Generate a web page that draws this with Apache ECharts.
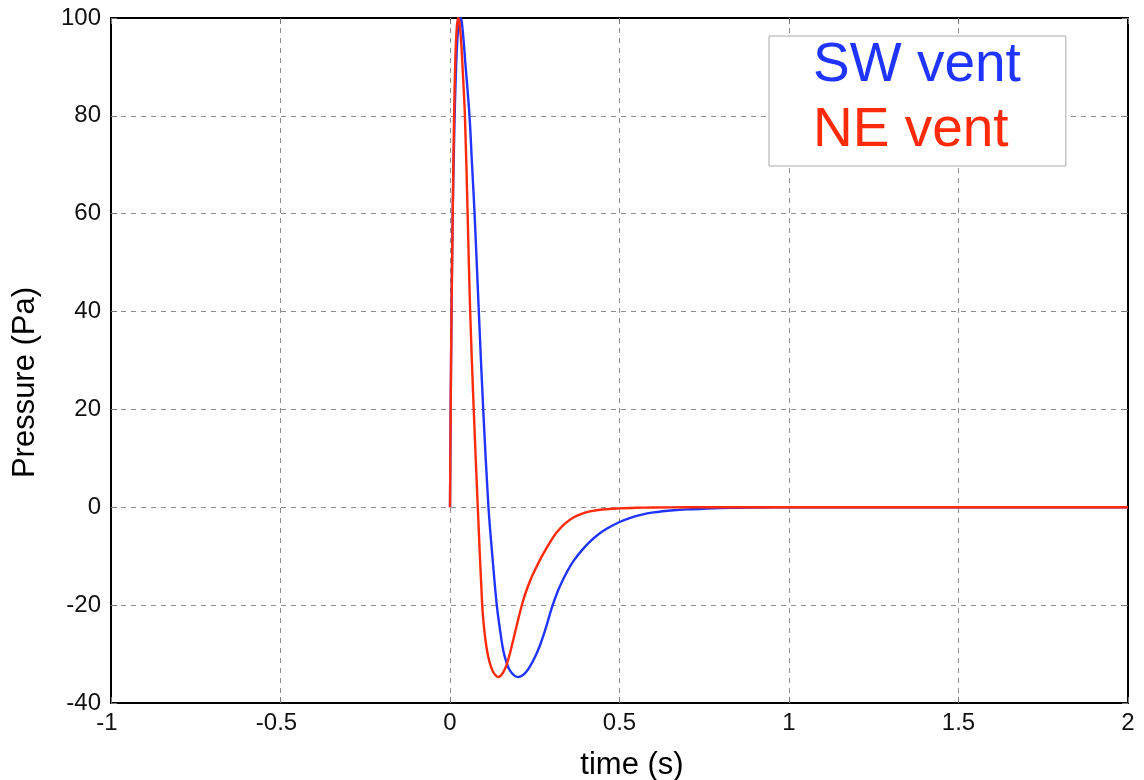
<!DOCTYPE html>
<html>
<head>
<meta charset="utf-8">
<script src="https://cdn.jsdelivr.net/npm/echarts@6/dist/echarts.min.js"></script>
<style>
html,body{margin:0;padding:0;background:#fff;}
#chart{width:1144px;height:780px;}
</style>
</head>
<body>
<div id="chart"></div>
<script>
// ---- data ----
var xTicks = [-1, -0.5, 0, 0.5, 1, 1.5, 2];
var yTicks = [-40, -20, 0, 20, 40, 60, 80, 100];

var swTime = [0, 0.002, 0.0045, 0.008, 0.013, 0.018, 0.023, 0.028, 0.032, 0.038, 0.045, 0.0575, 0.065, 0.0725, 0.085, 0.098, 0.1135, 0.125, 0.138, 0.1475, 0.157, 0.167, 0.177, 0.19, 0.2015, 0.213, 0.225, 0.236, 0.25, 0.265, 0.283, 0.3, 0.317, 0.334, 0.35, 0.364, 0.39, 0.413, 0.44, 0.462, 0.5, 0.53, 0.56, 0.6, 0.66, 0.71, 0.757, 0.8, 0.855, 0.92, 1, 1.5, 2];
var swPressure = [0, 20, 40, 60, 78, 90, 97, 99.5, 100, 97, 91, 80, 70, 60, 40, 20, 0, -10, -20, -25, -29.2, -31.8, -33.4, -34.4, -34.7, -34.4, -33.6, -32.5, -30.7, -28.3, -24.6, -20.6, -17.3, -14.7, -12.6, -11.0, -8.7, -7.0, -5.4, -4.4, -3.0, -2.2, -1.6, -1.05, -0.6, -0.4, -0.27, -0.17, -0.1, -0.05, 0, 0, 0];

var neTime = [0, 0.002, 0.0045, 0.008, 0.012, 0.016, 0.02, 0.024, 0.028, 0.033, 0.037, 0.044, 0.052, 0.0595, 0.07, 0.082, 0.095, 0.101, 0.107, 0.113, 0.12, 0.127, 0.134, 0.1425, 0.15, 0.158, 0.167, 0.177, 0.187, 0.197, 0.207, 0.217, 0.227, 0.237, 0.246, 0.265, 0.285, 0.3, 0.315, 0.34, 0.364, 0.39, 0.413, 0.45, 0.5, 0.55, 0.6, 0.7, 0.8, 1, 1.5, 2];
var nePressure = [0, 20, 40, 60, 80, 92, 98, 100, 99, 95, 90, 80, 60, 40, 20, 0, -20, -25, -28.3, -30.6, -32.4, -33.6, -34.3, -34.7, -34.4, -33.6, -32.2, -29.8, -27.0, -24.1, -21.3, -18.8, -16.7, -14.9, -13.5, -10.8, -8.3, -6.6, -5.1, -3.3, -2.1, -1.3, -0.85, -0.45, -0.22, -0.1, -0.04, 0, 0, 0, 0, 0];

var seriesNames = ['SW vent', 'NE vent'];
var seriesColors = ['#1f35ff', '#ff2a0a'];

function pairs(t, v) { return t.map(function (x, i) { return [x, v[i]]; }); }

var FONT = '"Liberation Sans", Arial, Helvetica, sans-serif';
var chart = echarts.init(document.getElementById('chart'), null, {renderer: 'canvas'});

var tickStyle = {show: true, inside: true, length: 6, lineStyle: {color: '#777', width: 1}};
var splitStyle = {show: true, lineStyle: {color: '#8c8c8c', width: 1, type: [5, 5]}};
var axisLineStyle = {show: true, onZero: false, lineStyle: {color: '#000', width: 2}};

// negative x labels: digits centred on the tick, minus sign hanging to the left
function fmtX(v) { return v < 0 ? '{neg|' + v + '}' : '{pos|' + v + '}'; }
function fmtY(v) { return String(v); }
var labelText = {fontFamily: FONT, fontSize: 24, color: '#111'};

var option = {
  animation: false,
  backgroundColor: '#fff',
  grid: {left: 111, right: 16, top: 18, bottom: 77, containLabel: false, outerBoundsMode: 'none',
         show: true, borderColor: '#000', borderWidth: 2},
  legend: {
    orient: 'vertical',
    left: 769, top: 36,
    padding: [2, 45, 8, 38],
    itemGap: 10,
    itemWidth: 0, itemHeight: 0,
    borderColor: '#aaa', borderWidth: 1,
    backgroundColor: '#fff',
    selectedMode: false,
    data: [
      {name: seriesNames[0], textStyle: {color: seriesColors[0]}},
      {name: seriesNames[1], textStyle: {color: seriesColors[1]}}
    ],
    textStyle: {fontFamily: FONT, fontSize: 55}
  },
  xAxis: [{
    type: 'value', min: xTicks[0], max: xTicks[xTicks.length - 1], interval: 0.5,
    name: 'time (s)', nameLocation: 'middle', nameGap: 47,
    nameTextStyle: {fontFamily: FONT, fontSize: 31, color: '#000', padding: [0, 0, 0, 25]},
    axisLine: axisLineStyle, axisTick: tickStyle, splitLine: splitStyle,
    axisLabel: {fontFamily: FONT, fontSize: 24, color: '#111', margin: 8, formatter: fmtX,
      rich: {
        neg: {fontFamily: FONT, fontSize: 24, color: '#111', padding: [0, 8, 0, 0]},
        pos: {fontFamily: FONT, fontSize: 24, color: '#111'}
      }}
  }, {
    type: 'value', position: 'top', min: xTicks[0], max: xTicks[xTicks.length - 1], interval: 0.5,
    axisLine: axisLineStyle, axisTick: tickStyle, splitLine: {show: false}, axisLabel: {show: false}
  }],
  yAxis: [{
    type: 'value', min: yTicks[0], max: yTicks[yTicks.length - 1], interval: 20,
    name: 'Pressure (Pa)', nameLocation: 'middle', nameGap: 70,
    nameTextStyle: {fontFamily: FONT, fontSize: 31, color: '#000', padding: [0, 44, 0, 0]},
    axisLine: axisLineStyle, axisTick: tickStyle, splitLine: splitStyle,
    axisLabel: {fontFamily: FONT, fontSize: 24, color: '#111', margin: 10, formatter: fmtY}
  }, {
    type: 'value', position: 'right', min: yTicks[0], max: yTicks[yTicks.length - 1], interval: 20,
    axisLine: axisLineStyle, axisTick: tickStyle, splitLine: {show: false}, axisLabel: {show: false}
  }],
  series: [{
    name: seriesNames[0], type: 'line', data: pairs(swTime, swPressure),
    showSymbol: false, smooth: 0.35, color: seriesColors[0],
    lineStyle: {width: 2.4, color: seriesColors[0]}, z: 3
  }, {
    name: seriesNames[1], type: 'line', data: pairs(neTime, nePressure),
    showSymbol: false, smooth: 0.35, color: seriesColors[1],
    lineStyle: {width: 2.4, color: seriesColors[1]}, z: 4
  }]
};
chart.setOption(option);
</script>
</body>
</html>
